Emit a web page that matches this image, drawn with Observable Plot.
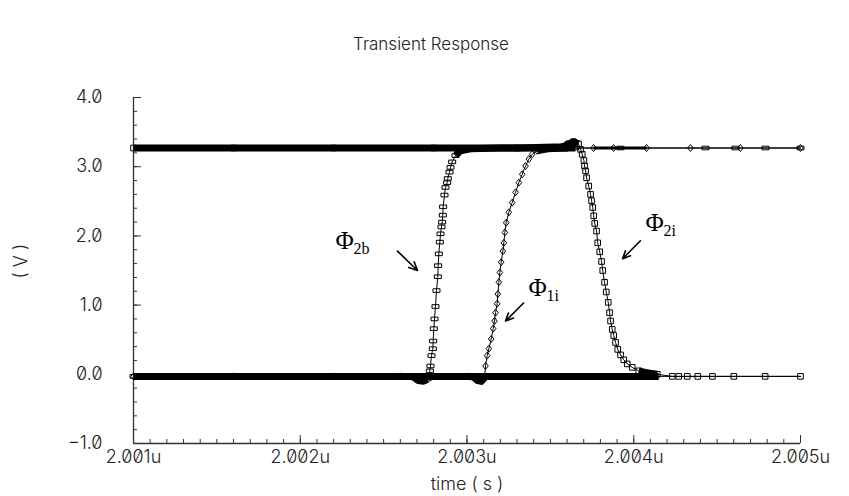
<!DOCTYPE html>
<html><head><meta charset="utf-8">
<script src="https://cdn.jsdelivr.net/npm/d3@7"></script>
<script src="https://cdn.jsdelivr.net/npm/@observablehq/plot@0.6"></script>
<style>
body{margin:0;background:#fff;}
</style></head><body><div id="chart"></div>
<script>
// time in ns, voltage in V
const phi2bT = [2001.0,2001.5,2002.0,2002.4,2002.65,2002.679,2002.709,2002.739,2002.763,
  2002.777,2002.781,2002.787,2002.795,2002.797,2002.801,2002.805,2002.811,2002.817,2002.825,2002.827,
  2002.831,2002.837,2002.841,2002.847,2002.851,2002.855,2002.857,2002.865,2002.871,2002.881,2002.885,
  2002.895,2002.901,2002.911,2002.931,2002.961,
  2003.021,2003.2,2003.5,2003.65,2003.92,2004.43,2004.61,2004.79,2005.0];
const phi2bV = [-0.03,-0.03,-0.03,-0.03,-0.03,-0.04,-0.09,-0.10,-0.07,
  0.05,0.12,0.27,0.37,0.48,0.66,0.80,0.98,1.21,1.41,1.57,1.74,1.91,2.03,2.13,2.20,2.30,2.42,2.59,2.70,2.77,2.83,2.92,2.99,3.07,3.16,3.23,
  3.26,3.27,3.27,3.27,3.27,3.27,3.27,3.27,3.27];

const phi1iT = [2001.0,2001.6,2002.2,2002.6,2003.0,2003.039,2003.063,2003.087,2003.105,
  2003.111,2003.121,2003.131,2003.145,2003.157,2003.165,2003.171,2003.181,2003.185,2003.191,2003.197,
  2003.205,2003.215,2003.221,2003.227,2003.235,2003.251,2003.271,2003.291,2003.311,2003.331,2003.351,
  2003.371,2003.391,2003.421,2003.481,
  2003.60,2003.759,2003.879,2004.077,2004.34,2004.64,2005.0];
const phi1iV = [-0.03,-0.03,-0.03,-0.03,-0.03,-0.04,-0.09,-0.10,-0.05,
  0.12,0.27,0.37,0.51,0.66,0.77,0.89,1.02,1.16,1.33,1.47,1.62,1.78,1.90,2.05,2.19,2.34,2.48,2.63,2.77,2.89,3.01,3.11,3.18,3.23,3.26,
  3.27,3.27,3.27,3.27,3.27,3.27,3.27];

const phi2iT = [2001.0,2001.6,2002.2,2002.8,2003.3,2003.579,2003.609,2003.639,2003.669,
  2003.681,2003.691,2003.701,2003.705,2003.711,2003.717,2003.730,2003.741,2003.747,2003.754,2003.760,
  2003.766,2003.777,2003.784,2003.796,2003.807,2003.814,2003.825,2003.835,2003.847,2003.855,2003.861,
  2003.871,2003.880,2003.891,2003.904,2003.921,2003.940,2003.961,2003.991,2004.030,2004.081,2004.141,
  2004.231,2004.270,2004.321,2004.384,2004.472,2004.600,2004.788,2005.0];
const phi2iV = [3.27,3.27,3.27,3.27,3.27,3.29,3.33,3.36,3.33,
  3.25,3.18,3.09,3.01,2.94,2.84,2.72,2.60,2.51,2.41,2.29,2.18,2.07,1.90,1.77,1.63,1.50,1.33,1.19,1.04,
  0.89,0.77,0.65,0.56,0.46,0.36,0.28,0.21,0.15,0.10,0.05,0.02,0.00,
  -0.03,-0.03,-0.03,-0.03,-0.03,-0.03,-0.03,-0.03];

// unlabeled trace that stays low through the window
const baseT = [2001.0,2002.9,2003.6,2004.15,2005.0];
const baseV = [-0.03,-0.03,-0.03,-0.03,-0.03];

// time ranges where simulation points are so dense the markers merge into a solid band
const phi2bDense = [[2001.0,2002.775],[2002.93,2003.68]];
const phi1iDense = [[2001.0,2003.108],[2003.40,2003.68]];
const phi2iDense = [[2001.0,2003.675],[2004.0,2004.2]];
const baseDense  = [[2001.0,2004.15]];
const phi2bSemi  = [[2003.68,2004.3]];
const phi1iSemi  = [[2003.68,2004.3]];

const xMajor = [2001,2002,2003,2004,2005];
const xMinor = d3.range(0,41).map(i => 2001 + i*0.1);
const yMajor = [-1,0,1,2,3,4];
const yMinor = d3.range(0,26).map(i => -1 + i*0.2);

const labelNames = ["Φ","Φ","Φ"];
const labelSubs  = ["2b","1i","2i"];
const labelT = [2002.211,2003.369,2004.070];
const labelV = [1.81,1.13,2.07];
const arrowT1 = [2002.583,2003.339,2004.040];
const arrowV1 = [1.78,1.03,1.93];
const arrowT2 = [2002.703,2003.231,2003.933];
const arrowV2 = [1.50,0.77,1.67];

const toRows = (T,V) => T.map((t,i) => ({t, v:V[i]}));
const phi2b = toRows(phi2bT,phi2bV), phi1i = toRows(phi1iT,phi1iV), phi2i = toRows(phi2iT,phi2iV), base = toRows(baseT,baseV);
const inSpans = (rows, spans) => spans.map(([a,b]) => rows.filter(d => d.t >= a && d.t <= b));

const symRect = {draw(c){c.moveTo(-3.5,-1.8);c.lineTo(3.5,-1.8);c.lineTo(3.5,1.8);c.lineTo(-3.5,1.8);c.closePath();}};
const symSquare = {draw(c){c.moveTo(-2.8,-2.8);c.lineTo(2.8,-2.8);c.lineTo(2.8,2.8);c.lineTo(-2.8,2.8);c.closePath();}};
const symDiamond = {draw(c){c.moveTo(0,-3.5);c.lineTo(2.8,0);c.lineTo(0,3.5);c.lineTo(-2.8,0);c.closePath();}};

const bandMarks = [];
for (const [rows, spans, w] of [[phi2b,phi2bDense,7],[phi1i,phi1iDense,7],[phi2i,phi2iDense,7],[base,baseDense,7],[phi2b,phi2bSemi,3],[phi1i,phi1iSemi,3]]) {
  for (const seg of inSpans(rows, spans)) bandMarks.push(Plot.line(seg, {x:"t", y:"v", stroke:"black", strokeWidth:w, strokeLinejoin:"round", strokeLinecap:"butt"}));
}

const labels = labelNames.map((n,i) => ({n, s:labelSubs[i], t:labelT[i], v:labelV[i]}));
const arrows = arrowT1.map((t,i) => ({t1:t, v1:arrowV1[i], t2:arrowT2[i], v2:arrowV2[i]}));
const ink = "#222";

const plot = Plot.plot({
  width: 849, height: 496,
  marginLeft: 133, marginRight: 49, marginTop: 97, marginBottom: 53,
  x: {domain:[2001,2005], axis:null},
  y: {domain:[-1,4], axis:null},
  style: {background:"white", overflow:"visible", fontFamily:"Inter, 'DejaVu Sans', sans-serif", fontFeatureSettings:"'zero' 1", fontVariantNumeric:"slashed-zero"},
  marks: [
    // axes
    Plot.ruleX([2001], {y1:-1, y2:4, stroke:"#333", strokeWidth:1.3}),
    Plot.ruleY([-1], {x1:2001, x2:2005, stroke:"#333", strokeWidth:1.3}),
    Plot.ruleX(xMinor, {x:d=>d, y1:-1, y2:-1, insetBottom:4, stroke:"#333"}),
    Plot.ruleX(xMajor, {x:d=>d, y1:-1, y2:-1, insetBottom:8, stroke:"#333"}),
    Plot.ruleY(yMinor, {y:d=>d, x1:2001, x2:2001, insetRight:-4, stroke:"#333"}),
    Plot.ruleY(yMajor, {y:d=>d, x1:2001, x2:2001, insetRight:-8, stroke:"#333"}),
    Plot.text(xMajor, {x:d=>d, y:-1, text:d=>(d/1000).toFixed(3)+"u", dy:14, fontSize:18, fill:ink, fontWeight:300, letterSpacing:2}),
    Plot.text(yMajor, {x:2001, y:d=>d, text:d=>(d<0?"\u2212":"")+Math.abs(d).toFixed(1), dx:-31, textAnchor:"end", fontSize:18, fill:ink, fontWeight:300, letterSpacing:1.5}),
    Plot.text(["time ( s )"], {frameAnchor:"bottom", lineAnchor:"middle", dy:41, fontSize:18, fill:ink, fontWeight:300, letterSpacing:1}),
    Plot.text(["( V )"], {frameAnchor:"left", dx:-112, dy:8, rotate:-90, fontSize:18, fill:ink, fontWeight:300, letterSpacing:2}),
    Plot.text(["Transient Response"], {frameAnchor:"top", dx:-36, dy:-60, fontSize:17, fill:ink, fontWeight:300, letterSpacing:1.3}),
    // dense bands
    ...bandMarks,
    // traces
    Plot.line(base, {x:"t", y:"v", stroke:"black", strokeWidth:1}),
    Plot.line(phi2b, {x:"t", y:"v", stroke:"black", strokeWidth:1}),
    Plot.line(phi1i, {x:"t", y:"v", stroke:"black", strokeWidth:1}),
    Plot.line(phi2i, {x:"t", y:"v", stroke:"black", strokeWidth:1}),
    Plot.dot(phi2b, {x:"t", y:"v", symbol:symRect, r:3, stroke:"black", fill:"none", strokeWidth:1}),
    Plot.dot(phi1i, {x:"t", y:"v", symbol:symDiamond, r:3, stroke:"black", fill:"none", strokeWidth:1}),
    Plot.dot(phi2i, {x:"t", y:"v", symbol:symSquare, r:3, stroke:"black", fill:"none", strokeWidth:1}),
    // annotations
    Plot.arrow(arrows, {x1:"t1", y1:"v1", x2:"t2", y2:"v2", stroke:"black", strokeWidth:1.6, headLength:9, headAngle:50}),
    Plot.text(labels, {x:"t", y:"v", text:"n", textAnchor:"start", lineAnchor:"bottom", fontSize:25, fontFamily:"Liberation Serif", fill:"black"}),
    Plot.text(labels, {x:"t", y:"v", text:"s", textAnchor:"start", lineAnchor:"bottom", dx:18, dy:5, fontSize:16, fontFamily:"Liberation Serif", fill:"black"})
  ]
});
document.getElementById("chart").appendChild(plot);
</script></body></html>
